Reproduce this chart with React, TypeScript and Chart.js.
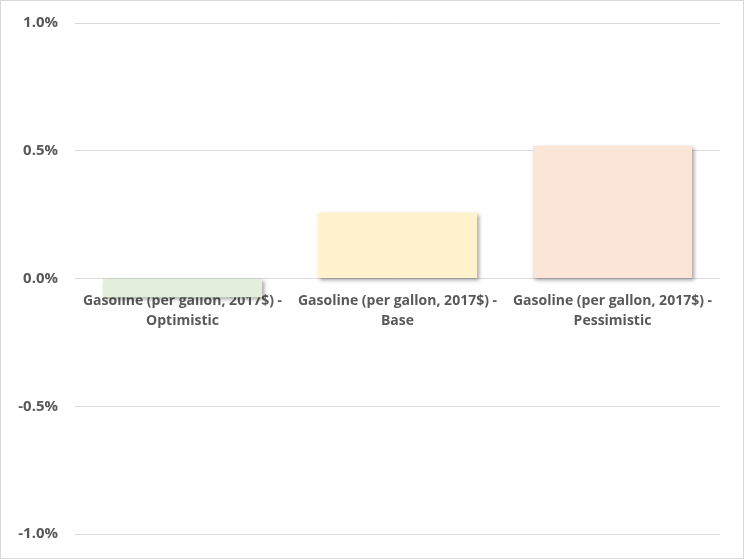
import React, { useEffect, useRef } from "react";
import { Chart, registerables } from "chart.js";

Chart.register(...registerables);

const categories: string[][] = [
  ["Gasoline (per gallon, 2017$) -", "Optimistic"],
  ["Gasoline (per gallon, 2017$) -", "Base"],
  ["Gasoline (per gallon, 2017$) -", "Pessimistic"],
];
const values: number[] = [-0.073, 0.257, 0.52];
const barColors: string[] = ["#E2EFDA", "#FFF2CC", "#FBE5D6"];
const yTicks: number[] = [-1.0, -0.5, 0.0, 0.5, 1.0];

const FONT = "'Open Sans', Lato, sans-serif";

const shadowPlugin = {
  id: "barShadow",
  beforeDatasetsDraw(chart: any) {
    const ctx = chart.ctx;
    ctx.save();
    ctx.shadowColor = "rgba(0,0,0,0.38)";
    ctx.shadowBlur = 4;
    ctx.shadowOffsetX = 2;
    ctx.shadowOffsetY = 2;
  },
  afterDatasetsDraw(chart: any) {
    chart.ctx.restore();
  },
};

export default function App() {
  const ref = useRef<HTMLCanvasElement | null>(null);
  useEffect(() => {
    document.body.style.margin = "0";
    if (!ref.current) return;
    const chart = new Chart(ref.current, {
      type: "bar",
      data: {
        labels: categories,
        datasets: [
          {
            data: values,
            backgroundColor: barColors,
            borderWidth: 0,
            categoryPercentage: 1,
            barPercentage: 0.74,
          },
        ],
      },
      options: {
        animation: false,
        responsive: false,
        devicePixelRatio: 1,
        layout: { padding: { top: 22, bottom: 24, left: 4, right: 23 } },
        plugins: {
          legend: { display: false },
          tooltip: { enabled: false },
        },
        scales: {
          x: {
            position: { y: 0 } as any,
            z: 1,
            afterFit(scale: any) {
              scale.paddingTop = 0;
              scale.paddingBottom = 0;
              scale.paddingLeft = 0;
              scale.paddingRight = 0;
            },
            grid: { display: false, drawTicks: false },
            border: { display: false },
            ticks: {
              autoSkip: false,
              maxRotation: 0,
              minRotation: 0,
              padding: 12,
              color: "#595959",
              font: { family: FONT, size: 14, weight: "bold", lineHeight: 1.45 },
            },
          },
          y: {
            min: -1,
            max: 1,
            afterBuildTicks(scale: any) {
              scale.ticks = yTicks.map((v) => ({ value: v }));
            },
            afterFit(scale: any) {
              scale.width = 70;
              scale.paddingTop = 0;
              scale.paddingBottom = 0;
            },
            grid: { color: "#D9D9D9", lineWidth: 1, drawTicks: false },
            border: { display: false },
            ticks: {
              padding: 17,
              color: "#595959",
              font: { family: FONT, size: 15, weight: "bold" },
              callback: (v: any) => Number(v).toFixed(1) + "%",
            },
          },
        },
      },
      plugins: [shadowPlugin],
    });
    return () => chart.destroy();
  }, []);
  return (
    <div
      style={{
        position: "absolute",
        left: 0,
        top: 0,
        width: 744,
        height: 559,
        border: "1px solid #D9D9D9",
        boxSizing: "border-box",
        background: "#fff",
      }}
    >
      <canvas ref={ref} width={742} height={557} style={{ display: "block" }} />
    </div>
  );
}
